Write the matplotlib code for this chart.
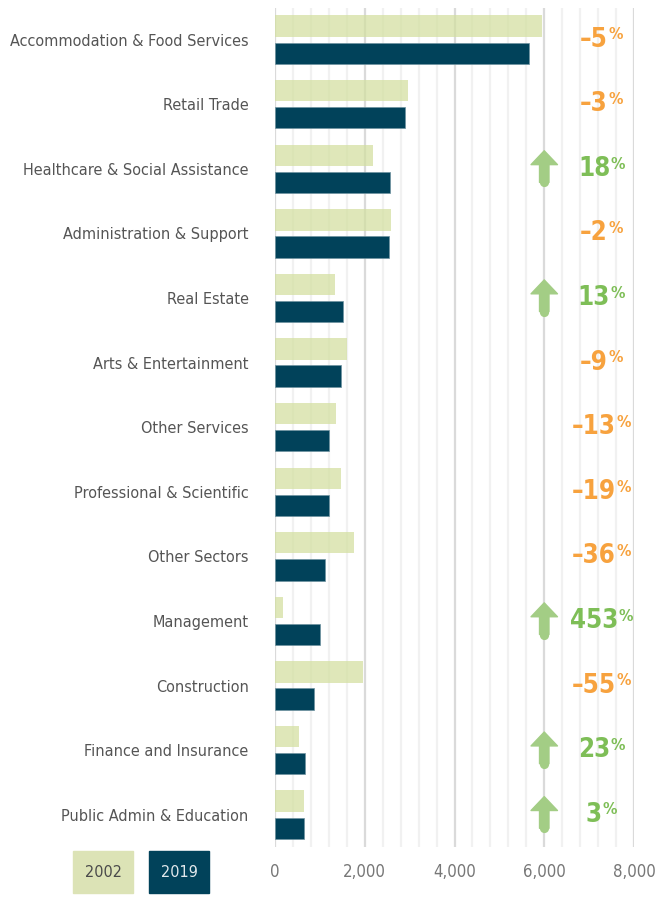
import matplotlib
matplotlib.use('Agg')
import matplotlib.pyplot as plt
from matplotlib.patches import Rectangle, FancyArrowPatch
from matplotlib import font_manager
from matplotlib.font_manager import FontProperties
import numpy as np

categories = ['Accommodation & Food Services', 'Retail Trade', 'Healthcare & Social Assistance',
              'Administration & Support', 'Real Estate', 'Arts & Entertainment', 'Other Services',
              'Professional & Scientific', 'Other Sectors', 'Management', 'Construction',
              'Finance and Insurance', 'Public Admin & Education']
values_2002 = [5950, 2970, 2175, 2583, 1336, 1604, 1359, 1470, 1760, 186, 1960, 535, 639]
values_2019 = [5665, 2888, 2554, 2539, 1514, 1470, 1203, 1203, 1114, 1010, 869, 661, 653]
pct_change = [-5, -3, 18, -2, 13, -9, -13, -19, -36, 453, -55, 23, 3]
years = ['2002', '2019']
x_ticks = [0, 2000, 4000, 6000, 8000]


def pick_fonts():
    narrow = []
    for f in font_manager.fontManager.ttflist:
        nm = f.name.lower()
        fn = f.fname.lower()
        if ('condensed' in nm or 'narrow' in nm or 'condensed' in fn or 'narrow' in fn
                or str(f.stretch) in ('condensed', 'semi-condensed', 'extra-condensed')):
            if 'mono' in nm or 'serif' in nm.replace('sans', ''):
                continue
            narrow.append(f)
    reg = bold = None
    for f in narrow:
        w = f.weight if isinstance(f.weight, int) else {'normal': 400, 'regular': 400, 'bold': 700}.get(str(f.weight), 400)
        if f.style != 'normal':
            continue
        if reg is None and w <= 400 and 'light' not in f.fname.lower():
            reg = f
        if bold is None and w >= 700:
            bold = f
    if reg is not None:
        rp = FontProperties(fname=reg.fname)
        bp = FontProperties(fname=bold.fname) if bold is not None else FontProperties(fname=reg.fname, weight='bold')
        return rp, bp
    return FontProperties(family=['Roboto', 'DejaVu Sans']), FontProperties(family=['Roboto', 'DejaVu Sans'], weight='bold')


REG, BOLD = pick_fonts()

W, H = 666, 905
fig = plt.figure(figsize=(W / 100, H / 100), dpi=100)
renderer = fig.canvas.get_renderer()


def fit_size(text, fp, target_px, max_pt):
    t = fig.text(0, 0, text, fontproperties=fp, fontsize=20)
    w = t.get_window_extent(renderer).width
    t.remove()
    return min(max_pt, 20 * target_px / w)


cat_size = fit_size('Accommodation & Food Services', REG, 238, 16)
tick_size = fit_size('2,000', REG, 43, 15)
pct_size = fit_size('\u201313', BOLD, 44, 21)
leg_size = fit_size('2002', REG, 37, 14)

ax = fig.add_axes([275 / W, 1 - 847 / H, (634 - 275) / W, (847 - 8) / H])

y = np.arange(len(categories))
h = 0.33
off = 0.21
ax.barh(y - off, values_2002, height=h, color='#D3DF9F', alpha=0.72, zorder=3)
ax.barh(y + off, values_2019, height=h, color='#01425A', zorder=3, edgecolor='#6F93A0', linewidth=0.5)

ax.set_xlim(0, 8000)
ax.set_ylim(12.5, -0.49)
ax.set_xticks(x_ticks)
ax.set_xticklabels([f'{v:,}' for v in x_ticks], fontproperties=REG, fontsize=tick_size, color='#777777')
ax.set_xticks(np.arange(0, 8001, 400), minor=True)
ax.grid(axis='x', which='major', color='#DADADA', lw=1.6, zorder=0)
ax.grid(axis='x', which='minor', color='#F1F1F1', lw=1.6, zorder=0)
ax.set_axisbelow(True)
ax.set_yticks(y)
ax.set_yticklabels(categories, fontproperties=REG, fontsize=cat_size, color='#555555')
ax.tick_params(axis='y', length=0, pad=19)
ax.tick_params(axis='x', which='both', length=0, pad=max(2, 18.7 - 0.6 * tick_size))
for s in ax.spines.values():
    s.set_visible(False)

for i, p in enumerate(pct_change):
    c = '#F7A23E' if p < 0 else '#7EBE57'
    txt = f'\u2013{abs(p)}' if p < 0 else f'{p}'
    t = ax.text(7110, i + 0.0, txt, ha='center', va='center', fontproperties=BOLD,
                fontsize=pct_size, color=c, zorder=5)
    ax.annotate('%', xy=(1, 0.97), xycoords=t, xytext=(0.3, 0), textcoords='offset points',
                ha='left', va='top', fontproperties=BOLD, fontsize=pct_size * 0.62, color=c, zorder=5)
    if p > 0:
        arr = FancyArrowPatch((6000, i + 0.21), (6000, i - 0.28),
                              arrowstyle='simple,head_length=1.0,head_width=1.9,tail_width=0.68',
                              mutation_scale=10, color='#A3CD85', shrinkA=0, shrinkB=0, zorder=4)
        ax.add_patch(arr)
        ax.plot(6000, i + 0.21, 'o', ms=6.6, color='#A3CD85', mec='none', zorder=4)

box_colors = ['#DCE3B6', '#01425A']
text_colors = ['#4A4A4A', '#E2E8EC']
box_x = [73, 149]
for yr, bc, tc, bx in zip(years, box_colors, text_colors, box_x):
    fig.add_artist(Rectangle((bx / W, 1 - 893 / H), 60 / W, 42 / H,
                             transform=fig.transFigure, color=bc))
    fig.text((bx + 30) / W, 1 - 872 / H, yr, ha='center', va='center',
             fontproperties=REG, fontsize=leg_size, color=tc)

fig.savefig('out.png', dpi=100)
